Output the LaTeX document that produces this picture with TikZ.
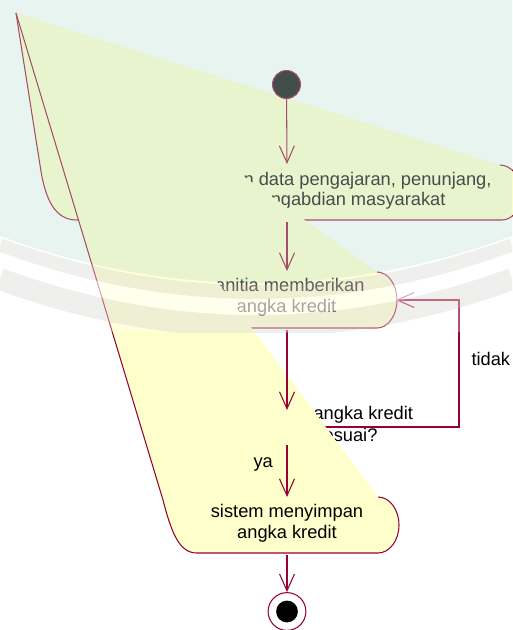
\documentclass[tikz,border=0pt]{standalone}
\usepackage{fontspec}
\setmainfont{Liberation Sans}
\usetikzlibrary{arrows.meta}
\definecolor{roseline}{RGB}{153,0,51}
\definecolor{rosefill}{RGB}{255,255,204}
\definecolor{wmmint}{RGB}{189,226,212}
\definecolor{wmgrey}{RGB}{195,195,190}

\begin{document}
\begin{tikzpicture}[x=0.02cm,y=-0.02cm,line width=0.6pt,
    >={Straight Barb[length=9.6pt,width=8.5pt]},
    lbl/.style={font=\fontsize{10.4}{11.9}\selectfont,inner sep=0pt},
    flow/.style={->,draw=roseline}]

    \useasboundingbox[fill=white] (0,0) rectangle (512,630);

    \coordinate (tip) at (16,13);
    \coordinate (act1n) at (287,164);
    \coordinate (act1s) at (287,222);
    \coordinate (act2n) at (287,271);
    \coordinate (act2s) at (287,330);
    \coordinate (act2e) at (396,300);
    \coordinate (decn) at (287,410);
    \coordinate (dece) at (305,427);
    \coordinate (decs) at (287,445);
    \coordinate (act3n) at (287,497);
    \coordinate (act3s) at (287,555);

    \fill[rosefill] (tip) -- (500,165) .. controls (511,165) and (522,177.3) .. (522,192.5)
          .. controls (522,207.7) and (513,220) .. (502,220) -- (77,220)
          .. controls (55,220) and (45,200) .. (40,165) -- cycle;
    \draw[roseline] (tip) -- (40,165) .. controls (45,200) and (55,220) .. (77,220) -- (502,220)
          .. controls (513,220) and (522,207.7) .. (522,192.5)
          .. controls (522,177.3) and (511,165) .. (500,165);
    \node[lbl,anchor=base east] (act1a) at (492,185) {n data pengajaran, penunjang,};
    \node[lbl,anchor=base east] (act1b) at (446,205) {ngabdian masyarakat};

    \fill[rosefill] (tip) -- (377,272) .. controls (388,272) and (397,284.5) .. (397,300)
          .. controls (397,315.5) and (388,328) .. (377,328) -- (200,328) -- cycle;
    \draw[roseline] (377,272) .. controls (388,272) and (397,284.5) .. (397,300)
          .. controls (397,315.5) and (388,328) .. (377,328) -- (200,328);
    \node[lbl,anchor=base east] (act2a) at (365,291) {anitia memberikan};
    \node[lbl,anchor=base] (act2b) at (286.5,312) {angka kredit};

    \node[lbl,anchor=base west] (deca) at (313,419) {angka kredit};
    \node[lbl,anchor=base east] (decb) at (378,441) {esuai?};
    \draw[flow] (dece) -- (459,427) -- (459,300) -- (act2e);
    \node[lbl,anchor=base west] (tidak) at (471,365) {tidak};

    \fill[rosefill] (tip) -- (378,497) .. controls (389.6,497) and (399,509.5) .. (399,525)
          .. controls (399,540.5) and (389.6,553) .. (378,553) -- (197,553)
          .. controls (180,553) and (172,535) .. (163,500) -- cycle;
    \draw[roseline] (tip) -- (163,500) .. controls (172,535) and (180,553) .. (197,553) -- (378,553)
          .. controls (389.6,553) and (399,540.5) .. (399,525)
          .. controls (399,509.5) and (389.6,497) .. (378,497);
    \node[lbl,align=center] (act3) at (287,523) {sistem menyimpan\\angka kredit};

    \node[circle,draw=roseline,fill=black,minimum size=15.9pt,inner sep=0pt] (start) at (286.5,84.5) {};
    \node[circle,draw=roseline,fill=white,minimum size=21.5pt,inner sep=0pt] (stop) at (287,611.5) {};
    \fill[black] (stop) circle (6.2pt);

    \draw[flow] (start) -- (act1n);
    \draw[flow] (act1s) -- (act2n);
    \draw[flow] (act2s) -- (decn);
    \draw[flow] (decs) -- (act3n);
    \node[lbl,anchor=base west] (ya) at (253,467) {ya};
    \draw[flow] (act3s) -- (stop);

    \begin{scope}
    \clip (0,0) rectangle (512,332);
    \fill[wmmint,opacity=0.35] (0,0) -- (512,0) -- (512,236)
          .. controls (341.3,298.7) and (170.7,298.7) .. (0,236) -- cycle;
    \fill[white,opacity=0.3] (0,236) .. controls (170.7,298.7) and (341.3,298.7) .. (512,236)
          -- (512,332) -- (0,332) -- cycle;
    \draw[wmgrey,opacity=0.25,line width=7.9pt] (0,245) .. controls (170.7,307.7) and (341.3,307.7) .. (512,245);
    \draw[white,opacity=0.5,line width=9pt] (0,260) .. controls (170.7,322.7) and (341.3,322.7) .. (512,260);
    \draw[wmgrey,opacity=0.25,line width=12.5pt] (0,279) .. controls (170.7,341.7) and (341.3,341.7) .. (512,279);
    \end{scope}

\end{tikzpicture}
\end{document}
